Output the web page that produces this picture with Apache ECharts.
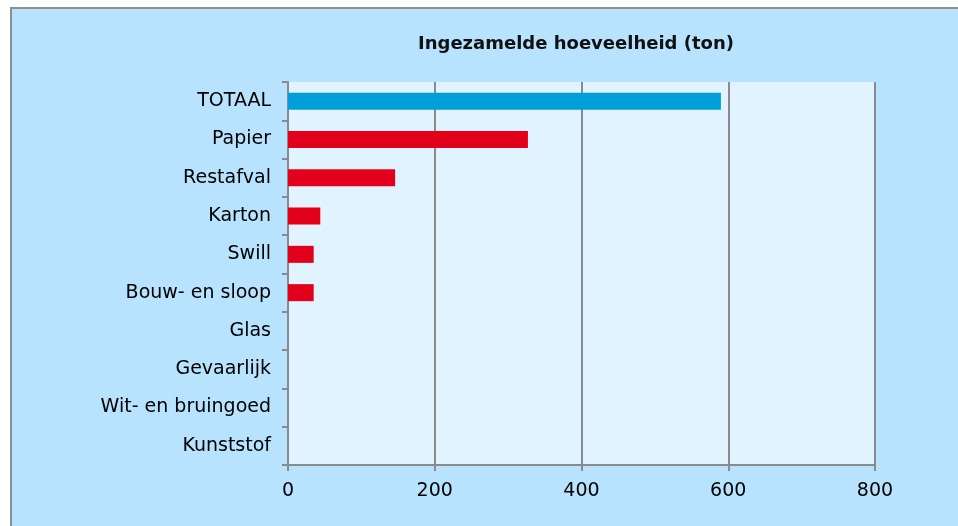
<!DOCTYPE html>
<html>
<head>
<meta charset="utf-8">
<script src="https://cdn.jsdelivr.net/npm/echarts@6/dist/echarts.min.js"></script>
<style>
	html, body { margin: 0; padding: 0; background: #ffffff; overflow: hidden; }
	#frame {
		position: absolute; left: 10px; top: 7px;
		border-left: 2px solid #8f8f8f; border-top: 2px solid #8f8f8f;
	}
	#chart { width: 960px; height: 530px; }
</style>
</head>
<body>
<div id="frame"><div id="chart"></div></div>
<script>
var categories = ['TOTAAL', 'Papier', 'Restafval', 'Karton', 'Swill', 'Bouw- en sloop', 'Glas', 'Gevaarlijk', 'Wit- en bruingoed', 'Kunststof'];
var tonnage = [590, 327, 146, 44, 35, 35, 0, 0, 0, 0];
var xTicks = [0, 200, 400, 600, 800];

var dom = document.getElementById('chart');
var myChart = echarts.init(dom);
var labelFont = '"DejaVu Sans", sans-serif';

var option = {
	backgroundColor: '#b7e3fe',
	animation: false,
	title: {
		text: 'Ingezamelde hoeveelheid (ton)',
		left: 559,
		textAlign: 'center',
		top: 21,
		textStyle: { fontFamily: labelFont, fontSize: 18, fontWeight: 'bold', color: '#111111' }
	},
	grid: { left: 276, top: 73, width: 587, height: 383 },
	xAxis: {
		type: 'value',
		min: xTicks[0],
		max: xTicks[xTicks.length - 1],
		interval: 200,
		axisLine: { show: true, lineStyle: { color: '#8a8a8a', width: 2 } },
		axisTick: { show: true, length: 6, lineStyle: { color: '#8a8a8a', width: 2 } },
		splitLine: { show: true, lineStyle: { color: '#8a8a8a', width: 2 } },
		axisLabel: { margin: 17, fontFamily: labelFont, fontSize: 19, color: '#000000' }
	},
	yAxis: {
		type: 'category',
		inverse: true,
		data: categories,
		axisLine: { show: true, lineStyle: { color: '#8a8a8a', width: 2 } },
		axisTick: { show: true, length: 6, lineStyle: { color: '#8a8a8a', width: 2 } },
		axisLabel: { margin: 17, fontFamily: labelFont, fontSize: 19, color: '#000000' }
	},
	series: [{
		type: 'bar',
		data: tonnage,
		barWidth: 17,
		itemStyle: {
			color: function (p) { return p.dataIndex === 0 ? '#009fda' : '#e2001a'; }
		}
	}],
	graphic: [{
		type: 'rect',
		z: -1,
		shape: { x: 276, y: 73, width: 587, height: 383 },
		style: { fill: '#e0f3fe' }
	}]
};

myChart.setOption(option, true);
</script>
</body>
</html>
